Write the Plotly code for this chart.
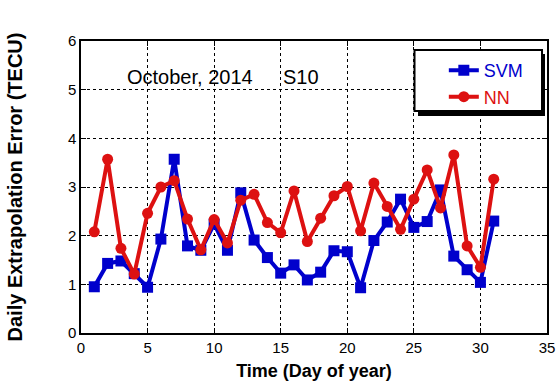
import plotly.graph_objects as go

days = list(range(1, 32))
svm = [0.95, 1.43, 1.48, 1.22, 0.94, 1.93, 3.57, 1.79, 1.70, 2.24, 1.70, 2.88,
       1.91, 1.55, 1.23, 1.40, 1.09, 1.25, 1.69, 1.67, 0.93, 1.90, 2.28, 2.75,
       2.17, 2.29, 2.94, 1.58, 1.30, 1.04, 2.30]
nn = [2.08, 3.57, 1.74, 1.21, 2.46, 3.00, 3.13, 2.34, 1.71, 2.33, 1.85, 2.73,
      2.85, 2.27, 2.06, 2.92, 1.88, 2.36, 2.82, 3.01, 2.10, 3.08, 2.60, 2.13,
      2.75, 3.35, 2.57, 3.66, 1.79, 1.35, 3.16]

BLUE = "#0000cc"
RED = "#dd1111"
FONT = "Liberation Sans, Arial, sans-serif"

fig = go.Figure()
fig.add_trace(go.Scatter(x=days, y=svm, mode="lines+markers",
                         name="<span style='color:%s'>SVM</span>" % BLUE,
                         line=dict(color=BLUE, width=4),
                         marker=dict(symbol="square", size=11, color=BLUE)))
fig.add_trace(go.Scatter(x=days, y=nn, mode="lines+markers",
                         name="<span style='color:%s'>NN</span>" % RED,
                         line=dict(color=RED, width=4),
                         marker=dict(symbol="circle", size=11, color=RED)))

axis_common = dict(showline=True, linecolor="black", linewidth=1.5, mirror="ticks",
                   ticks="inside", ticklen=5, tickcolor="black", automargin=False,
                   showgrid=True, gridcolor="black", gridwidth=1, griddash="3px,3px",
                   zeroline=False, tickfont=dict(family=FONT, size=15, color="black"))

fig.update_xaxes(range=[0, 35], dtick=5, **axis_common,
                 title=dict(text="<b>Time (Day of year)</b>",
                            font=dict(family=FONT, size=18, color="black"), standoff=10))
fig.update_yaxes(range=[0, 6], dtick=1, **axis_common,
                 title=dict(text="<b>Daily Extrapolation Error (TECU)</b>",
                            font=dict(family=FONT, size=20, color="black"), standoff=40))

fig.add_annotation(x=8.2, y=5.27, text="October, 2014", showarrow=False,
                   font=dict(family=FONT, size=20, color="black"))
fig.add_annotation(x=16.5, y=5.27, text="S10", showarrow=False,
                   font=dict(family=FONT, size=20, color="black"))

# legend box with shadow
fig.add_shape(type="rect", xref="paper", yref="paper",
              x0=0.7232, x1=0.9957, y0=0.7432, y1=0.9555,
              fillcolor="black", line=dict(width=0), layer="above")
fig.add_shape(type="rect", xref="paper", yref="paper",
              x0=0.7157, x1=0.9893, y0=0.7603, y1=0.9692,
              fillcolor="white", line=dict(color="black", width=2), layer="above")

fig.update_layout(
    width=556, height=387,
    margin=dict(l=81, r=9, t=41, b=54, autoexpand=False),
    plot_bgcolor="white", paper_bgcolor="white",
    showlegend=True,
    legend=dict(x=0.7786, y=0.962, xanchor="left", yanchor="top",
                bgcolor="rgba(0,0,0,0)", borderwidth=0,
                font=dict(family=FONT, size=18), tracegroupgap=0),
    font=dict(family=FONT),
)

fig.write_html("out.html", config={"displayModeBar": False},
               post_script="document.body.style.margin='0';document.body.style.padding='0';")
